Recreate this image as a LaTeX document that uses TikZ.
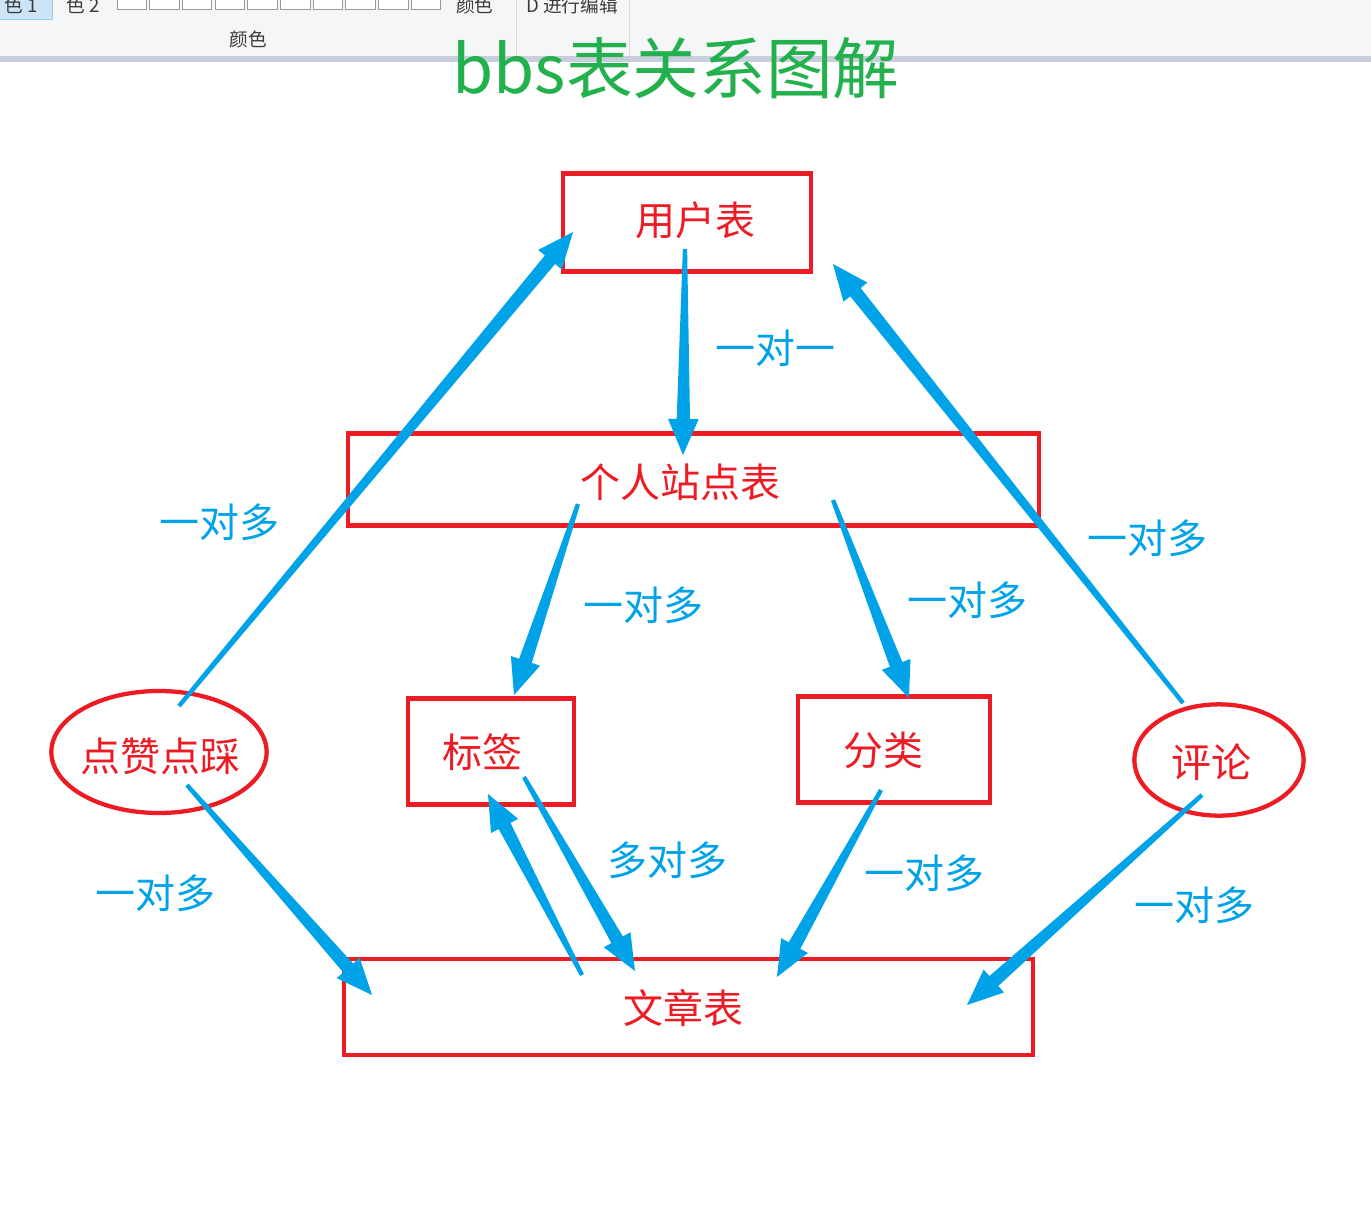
\documentclass[tikz,border=0pt]{standalone}
\usepackage{fontspec}
\setmainfont{Noto Sans CJK SC}
\usetikzlibrary{calc,shapes.geometric}
\definecolor{tred}{HTML}{ED1C24}
\definecolor{tblue}{HTML}{00A2E8}
\definecolor{tgreen}{HTML}{22B14C}
\definecolor{barbg}{HTML}{F5F6F7}
\definecolor{barband}{HTML}{C8CEDC}
\definecolor{bartext}{HTML}{3C3C3C}
\definecolor{selfill}{HTML}{CCE4F7}
\definecolor{seldraw}{HTML}{99C9EF}
\newcommand\taparrow[2]{%
  \coordinate (hb) at ($(#2)!27pt!(#1)$);
  \fill[tblue] ($(#1)!1.6pt!90:(#2)$) -- ($(hb)!5pt!-90:(#1)$) -- ($(hb)!11.5pt!-90:(#1)$) -- (#2)
     -- ($(hb)!11.5pt!90:(#1)$) -- ($(hb)!5pt!90:(#1)$) -- ($(#1)!1.6pt!-90:(#2)$) -- cycle;
}
\begin{document}
\begin{tikzpicture}[x=0.75pt,y=-0.75pt,
  rbox/.style={draw=tred,line width=3.2pt,rectangle,inner sep=0},
  rell/.style={draw=tred,line width=3.2pt,ellipse,inner sep=0},
  rtext/.style={text=tred,font=\fontsize{30pt}{30pt}\selectfont,inner sep=0},
  lbl/.style={text=tblue,font=\fontsize{30pt}{30pt}\selectfont,inner sep=0},
  bartxt/.style={text=bartext,font=\fontsize{14pt}{14pt}\selectfont,inner sep=0,anchor=base west}]
\useasboundingbox (0,0) rectangle (1371,1214);
\fill[white] (0,0) rectangle (1371,1214);
% toolbar fragment
\begin{scope}
\clip (0,0) rectangle (1371,62);
\fill[barbg] (0,0) rectangle (1371,56);
\fill[barband] (0,56) rectangle (1371,62);
\filldraw[fill=selfill,draw=seldraw,line width=0.75pt] (-2,-2) rectangle (52,19);
\node[bartxt] (c1) at (4,12) {色 1};
\node[bartxt] (c2) at (66,12) {色 2};
\foreach \i in {0,...,9}{
  \filldraw[fill=white,draw=black!40,line width=0.75pt] ({117+32.7*\i},-5) rectangle ({146.5+32.7*\i},9);
}
\node[bartxt] (c3) at (456,12) {颜色};
\node[bartxt] (c4) at (526,12) {D 进行编辑};
\node[bartxt,anchor=center] (c5) at (248,39) {颜色};
\draw[black!15,line width=0.75pt] (516,0) -- (516,55);
\draw[black!15,line width=0.75pt] (629,0) -- (629,55);
\end{scope}
% title
\node[text=tgreen,font=\fontsize{50pt}{50pt}\selectfont,inner sep=0,anchor=base] (title) at (676,93) {bbs表关系图解};
% boxes
\node[rbox,minimum width=186pt,minimum height=73.5pt] (user) at (687,222.5) {};
\node[rbox,minimum width=518pt,minimum height=69pt] (site) at (693.5,479.5) {};
\node[rbox,minimum width=124pt,minimum height=79.5pt] (tag) at (491,751.5) {};
\node[rbox,minimum width=143.5pt,minimum height=79.5pt] (cat) at (894,749.5) {};
\node[rbox,minimum width=516.5pt,minimum height=71.5pt] (art) at (688.5,1007) {};
\node[rell,minimum width=161.5pt,minimum height=91.5pt] (like) at (159,752) {};
\node[rell,minimum width=127pt,minimum height=83.5pt] (cmt) at (1219,760) {};
% arrow end points
\coordinate (a1s) at (685,249); \coordinate (a1e) at (683,455);
\coordinate (a2s) at (179,706); \coordinate (a2e) at (573,232);
\coordinate (a3s) at (1183,703); \coordinate (a3e) at (833,264);
\coordinate (a4s) at (578,504); \coordinate (a4e) at (514,695);
\coordinate (a5s) at (833,500); \coordinate (a5e) at (909,698);
\coordinate (a6s) at (524,777); \coordinate (a6e) at (635,971);
\coordinate (a7s) at (582,975); \coordinate (a7e) at (488,794);
\coordinate (a8s) at (881,790); \coordinate (a8e) at (777,977);
\coordinate (a9s) at (187,785); \coordinate (a9e) at (372,995);
\coordinate (a10s) at (1202,795); \coordinate (a10e) at (967,1005);
\taparrow{a1s}{a1e}
\taparrow{a2s}{a2e}
\taparrow{a3s}{a3e}
\taparrow{a4s}{a4e}
\taparrow{a5s}{a5e}
\taparrow{a6s}{a6e}
\taparrow{a7s}{a7e}
\taparrow{a8s}{a8e}
\taparrow{a9s}{a9e}
\taparrow{a10s}{a10e}
% box texts
\node[rtext] (tuser) at (695,220) {用户表};
\node[rtext] (tsite) at (680,482) {个人站点表};
\node[rtext] (ttag) at (482,752) {标签};
\node[rtext] (tcat) at (883,750) {分类};
\node[rtext] (tart) at (683,1008) {文章表};
\node[rtext] (tlike) at (160,756) {点赞点踩};
\node[rtext] (tcmt) at (1211,762) {评论};
% relation labels
\node[lbl] (l1) at (775,348) {一对一};
\node[lbl] (l2) at (219,522) {一对多};
\node[lbl] (l3) at (643,605) {一对多};
\node[lbl] (l4) at (967,600) {一对多};
\node[lbl] (l5) at (1147,538) {一对多};
\node[lbl] (l6) at (155,893) {一对多};
\node[lbl] (l7) at (667,860) {多对多};
\node[lbl] (l8) at (924,873) {一对多};
\node[lbl] (l9) at (1194,905) {一对多};
\end{tikzpicture}
\end{document}
